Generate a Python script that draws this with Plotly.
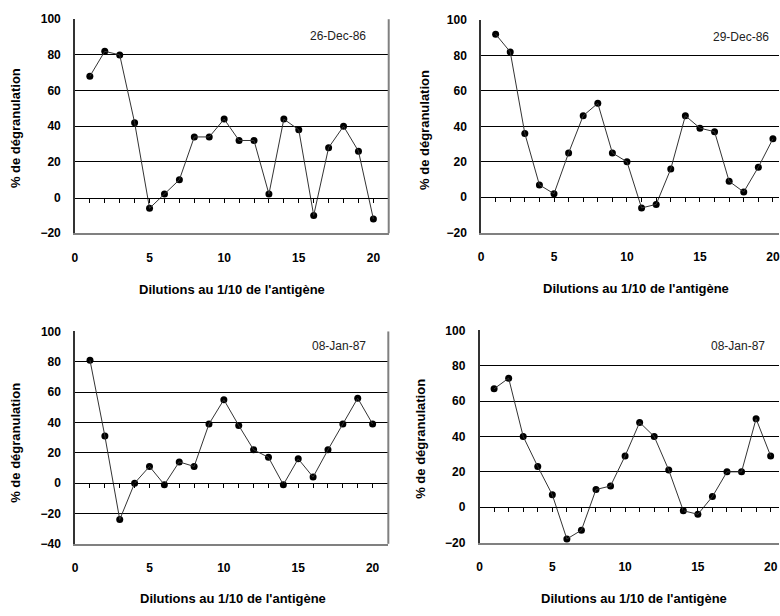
import plotly.graph_objects as go

W, H = 780, 616

# Dilution index (1/10 steps of the antigen)
dilutions = list(range(1, 21))

# % degranulation per experiment
deg_26dec86 = [68, 82, 80, 42, -6, 2, 10, 34, 34, 44, 32, 32, 2, 44, 38, -10, 28, 40, 26, -12]
deg_29dec86 = [92, 82, 36, 7, 2, 25, 46, 53, 25, 20, -6, -4, 16, 46, 39, 37, 9, 3, 17, 33]
deg_08jan87_a = [81, 31, -24, 0, 11, -1, 14, 11, 39, 55, 38, 22, 17, -1, 16, 4, 22, 39, 56, 39]
deg_08jan87_b = [67, 73, 40, 23, 7, -18, -13, 10, 12, 29, 48, 40, 21, -2, -4, 6, 20, 20, 50, 29]

dates = ["26-Dec-86", "29-Dec-86", "08-Jan-87", "08-Jan-87"]
series = [deg_26dec86, deg_29dec86, deg_08jan87_a, deg_08jan87_b]
y_ranges = [(-20, 100), (-20, 100), (-40, 100), (-20, 100)]
x_ticks = [0, 5, 10, 15, 20]

x_title = "Dilutions au 1/10 de l'antigène"
y_title = "% de dégranulation"

# Plot-area placement in pixels: left, right, top, bottom, px per x unit
panels = [
    dict(l=72.3, r=387.7, t=12.5, b=231.5, dx=15.0, right_border=True,
         date_xy=(337, 30), xt=(230, 289), yt=(12, 124)),
    dict(l=480.5, r=780.0, t=13.3, b=231.0, dx=14.67, right_border=False,
         date_xy=(742, 31), xt=(636, 288), yt=(423, 126)),
    dict(l=72.5, r=387.3, t=332.0, b=549.3, dx=14.95, right_border=True,
         date_xy=(338, 347), xt=(231, 605), yt=(13, 446)),
    dict(l=479.0, r=780.0, t=331.0, b=548.0, dx=14.63, right_border=False,
         date_xy=(739, 347), xt=(634, 605), yt=(420, 442)),
]


def px(x):
    return x / W


def py(y):
    return 1 - y / H


FONT = "Liberation Sans, Arial, sans-serif"
tick_font = dict(family=FONT, size=12, color="#000000", weight="bold")
title_font = dict(family=FONT, size=13, color="#000000", weight="bold")

fig = go.Figure()
layout = {}
annotations = []
shapes = []

for i, (p, ys, yr, date) in enumerate(zip(panels, series, y_ranges, dates)):
    xa_main = 2 * i + 1
    xa_tick = 2 * i + 2
    ya = i + 1
    xmax = (p["r"] - p["l"]) / p["dx"]
    xdom = [px(p["l"]), px(p["r"])]
    ydom = [py(p["b"]), py(p["t"])]
    xkey = "xaxis" if xa_main == 1 else f"xaxis{xa_main}"
    ykey = "yaxis" if ya == 1 else f"yaxis{ya}"
    xref = "x" if xa_main == 1 else f"x{xa_main}"
    xref_tick = f"x{xa_tick}"
    yref = "y" if ya == 1 else f"y{ya}"

    # connecting line (on the zero-line tick axis, same range as the main one)
    fig.add_trace(go.Scatter(
        x=dilutions, y=ys, mode="lines",
        line=dict(color="#333333", width=1),
        xaxis=xref_tick, yaxis=yref, showlegend=False, hoverinfo="skip",
    ))
    # data points
    fig.add_trace(go.Scatter(
        x=dilutions, y=ys, mode="markers",
        marker=dict(color="#000000", size=7),
        xaxis=xref, yaxis=yref, showlegend=False, cliponaxis=False,
    ))

    layout[xkey] = dict(
        domain=xdom, anchor=yref, range=[0, xmax],
        tickvals=x_ticks, ticks="", showgrid=False, zeroline=False,
        showline=True, linecolor="#808080", linewidth=2,
        tickfont=tick_font, ticklabelstandoff=12, ticklabeloverflow="allow",
        fixedrange=True,
    )
    # zero line carrying the small tick marks at every dilution
    zero_pos = p["b"] - (0 - yr[0]) / (yr[1] - yr[0]) * (p["b"] - p["t"])
    layout[f"xaxis{xa_tick}"] = dict(
        overlaying=xref, anchor="free", position=py(zero_pos),
        range=[0, xmax], tickvals=dilutions, ticks="outside", ticklen=4,
        tickwidth=1, tickcolor="#000000", showticklabels=False,
        showgrid=False, zeroline=False, showline=True, linecolor="#000000",
        linewidth=1, side="bottom", fixedrange=True,
    )
    layout[ykey] = dict(
        domain=ydom, anchor=xref, range=list(yr), dtick=20,
        showgrid=True, gridcolor="#000000", gridwidth=1,
        zeroline=True, zerolinecolor="rgba(0,0,0,0)", zerolinewidth=1,
        showline=True, linecolor="#333333", linewidth=1.5,
        ticks="", tickfont=tick_font, ticklabelstandoff=10, fixedrange=True,
    )

    if p["right_border"]:
        shapes.append(dict(
            type="line", xref=f"{xref} domain", yref=f"{yref} domain",
            x0=1, x1=1, y0=0, y1=1, line=dict(color="#808080", width=2),
        ))

    annotations.append(dict(
        text=date, x=px(p["date_xy"][0]), y=py(p["date_xy"][1]),
        xref="paper", yref="paper", xanchor="center", yanchor="middle",
        showarrow=False, font=dict(family=FONT, size=12, color="#222222"),
    ))
    annotations.append(dict(
        text=x_title, x=px(p["xt"][0]), y=py(p["xt"][1]),
        xref="paper", yref="paper", xanchor="center", yanchor="middle",
        showarrow=False, font=title_font,
    ))
    annotations.append(dict(
        text=y_title, x=px(p["yt"][0]), y=py(p["yt"][1]), textangle=-90,
        xref="paper", yref="paper", xanchor="center", yanchor="middle",
        showarrow=False, font=title_font,
    ))

fig.update_layout(
    width=W, height=H, margin=dict(l=0, r=0, t=0, b=0),
    paper_bgcolor="#ffffff", plot_bgcolor="#ffffff",
    annotations=annotations, shapes=shapes, **layout,
)

fig.write_html("out.html", config={"displayModeBar": False})
